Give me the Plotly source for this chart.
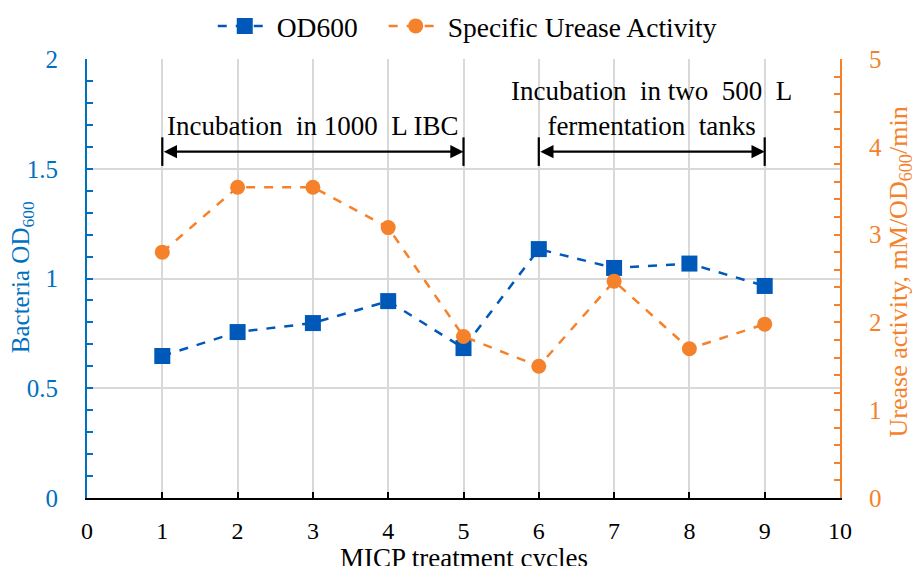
import plotly.graph_objects as go

cycles = [1, 2, 3, 4, 5, 6, 7, 8, 9]
od600 = [0.647, 0.756, 0.797, 0.897, 0.683, 1.134, 1.048, 1.068, 0.966]
urease = [2.80, 3.54, 3.54, 3.08, 1.84, 1.50, 2.47, 1.70, 1.98]
x_ticks = list(range(0, 11))
phase1 = ("Incubation  in 1000  L IBC", 1, 5)
phase2 = ("Incubation  in two  500  L<br>fermentation  tanks", 6, 9)

BLUE = "#0058B8"
BLUE_TXT = "#0070C0"
ORANGE = "#F5822A"
FONT = "Times New Roman, Liberation Serif, serif"

fig = go.Figure()
fig.add_trace(go.Scatter(
    x=cycles, y=od600, name="OD600", mode="lines+markers", legend="legend",
    line=dict(color=BLUE, width=2.5, dash="dash"),
    marker=dict(symbol="square", size=16, color=BLUE),
))
fig.add_trace(go.Scatter(
    x=cycles, y=urease, name="Specific Urease Activity", mode="lines+markers",
    yaxis="y2", legend="legend2",
    line=dict(color=ORANGE, width=2.5, dash="dash"),
    marker=dict(symbol="circle", size=15, color=ORANGE),
))

arrow_y = 1.578
for (label, x0, x1), ty in [(phase1, 1.695), (phase2, 1.775)]:
    fig.add_annotation(x=x1, y=arrow_y, ax=x0, ay=arrow_y, xref="x", yref="y",
                       axref="x", ayref="y", text="", showarrow=True,
                       arrowhead=2, arrowside="end+start", arrowsize=1.2,
                       arrowwidth=2.2, arrowcolor="black")
    for xv in (x0, x1):
        fig.add_shape(type="line", x0=xv, x1=xv, y0=arrow_y - 0.065, y1=arrow_y + 0.065,
                      xref="x", yref="y", line=dict(color="black", width=2.2))
    fig.add_annotation(x=(x0 + x1) / 2, y=ty, xref="x", yref="y", text=label,
                       showarrow=False, font=dict(family=FONT, size=27, color="black"))

# axis titles as positioned text
fig.add_annotation(x=-0.0863, y=0.503, xref="paper", yref="paper", textangle=-90,
                   text="Bacteria OD<sub>600</sub>", showarrow=False,
                   xanchor="center", yanchor="middle",
                   font=dict(family=FONT, size=25, color=BLUE_TXT))
fig.add_annotation(x=1.079, y=0.515, xref="paper", yref="paper", textangle=-90,
                   text="Urease activity, mM/OD<sub>600</sub>/min", showarrow=False,
                   xanchor="center", yanchor="middle",
                   font=dict(family=FONT, size=26, color=ORANGE))
fig.add_annotation(x=0.5, y=-0.098, xref="paper", yref="paper",
                   text="MICP treatment cycles", showarrow=False,
                   xanchor="center", yanchor="top",
                   font=dict(family=FONT, size=27, color="black"))

leg_common = dict(orientation="h", yref="container", y=0.954, yanchor="middle",
                  xanchor="left", font=dict(family=FONT, size=27.5, color="black"),
                  itemwidth=54, bgcolor="rgba(0,0,0,0)")

fig.update_layout(
    width=912, height=566,
    margin=dict(l=87, r=72, t=59, b=68, autoexpand=False),
    paper_bgcolor="white", plot_bgcolor="white",
    font=dict(family=FONT, size=24),
    showlegend=True,
    legend=dict(x=0.167, **leg_common),
    legend2=dict(x=0.394, **leg_common),
    xaxis=dict(range=[0, 10], tickvals=x_ticks, showgrid=True, gridcolor="#D9D9D9",
               gridwidth=1.5, showline=True, linecolor="black", linewidth=2,
               ticks="inside", ticklen=6, tickcolor="black", tickwidth=1.5,
               tickfont=dict(family=FONT, size=24, color="black"), zeroline=False,
               ticklabelstandoff=10, automargin=False),
    yaxis=dict(range=[0, 2], dtick=0.5, showgrid=True, gridcolor="#D9D9D9", gridwidth=1.5,
               showline=True, linecolor=BLUE_TXT, linewidth=2,
               ticks="inside", ticklen=6, tickcolor=BLUE_TXT, tickwidth=1.5,
               minor=dict(dtick=0.1, ticks="inside", ticklen=6, tickcolor=BLUE_TXT, showgrid=False),
               tickfont=dict(family=FONT, size=25, color=BLUE_TXT), zeroline=False,
               ticklabelstandoff=22, automargin=False),
    yaxis2=dict(range=[0, 5], dtick=1, overlaying="y", side="right", showgrid=False,
                showline=True, linecolor=ORANGE, linewidth=2,
                ticks="inside", ticklen=6, tickcolor=ORANGE, tickwidth=1.5,
                minor=dict(dtick=0.2, ticks="inside", ticklen=6, tickcolor=ORANGE),
                tickfont=dict(family=FONT, size=25, color=ORANGE), zeroline=False,
                ticklabelstandoff=22, automargin=False),
)

fig.write_html("out.html")
